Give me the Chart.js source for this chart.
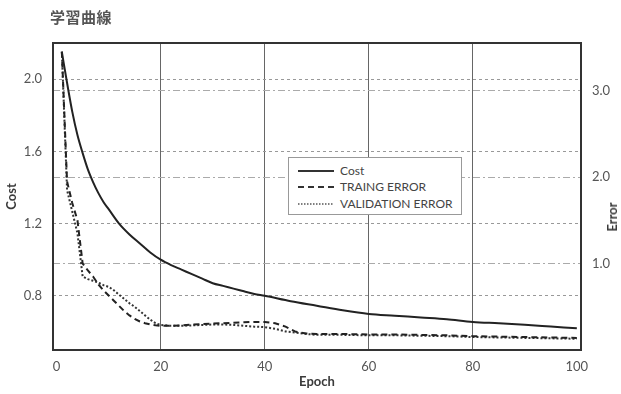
<!DOCTYPE html>
<html><head><meta charset="utf-8">
<script src="https://cdn.jsdelivr.net/npm/chart.js@4"></script>
<style>
html,body{margin:0;padding:0;background:#fff;}
#wrap{position:relative;width:621px;height:394px;overflow:hidden;}
#title{position:absolute;left:50px;top:6px;font:bold 15px "Noto Sans CJK JP",sans-serif;color:#555;letter-spacing:0.5px;}
#legend{position:absolute;left:288px;top:157px;width:172px;height:56px;border:1px solid #999;background:#fff;font:12px Lato,sans-serif;color:#444;}
.row{position:absolute;left:9px;height:16px;line-height:16px;white-space:nowrap;}
.row svg{position:absolute;left:0;top:0;}
.row span{position:absolute;left:42px;top:0;}
#errTitle{position:absolute;left:612px;top:217px;transform:translate(-50%,-50%) rotate(-90deg);font:bold 13px Lato,sans-serif;color:#3a3a3a;white-space:nowrap;}
</style></head>
<body>
<div id="wrap">
<canvas id="c" width="621" height="394"></canvas>
<div id="title">学習曲線</div>
<div id="errTitle">Error</div>
<div id="legend">
 <div class="row" style="top:5px"><svg width="38" height="16"><line x1="0" y1="8" x2="36" y2="8" stroke="#333" stroke-width="2"/></svg><span>Cost</span></div>
 <div class="row" style="top:21px"><svg width="38" height="16"><line x1="0" y1="8" x2="36" y2="8" stroke="#333" stroke-width="2" stroke-dasharray="6,4"/></svg><span>TRAING ERROR</span></div>
 <div class="row" style="top:38px"><svg width="38" height="16"><line x1="0" y1="8" x2="36" y2="8" stroke="#555" stroke-width="1.5" stroke-dasharray="1.5,1.5"/></svg><span>VALIDATION ERROR</span></div>
</div>
</div>
<script>
const xTicks = [0, 20, 40, 60, 80, 100];
const costTicks = [0.8, 1.2, 1.6, 2.0];
const errTicks = [1.0, 2.0, 3.0];

const costEpochs = [1,2,3,4,5,6,7,8,9,10,12,14,16,18,20,22,24,26,28,30,32,34,36,38,40,45,50,55,60,65,70,75,80,85,90,95,100];
const costValues = [2.15,1.98,1.82,1.69,1.59,1.50,1.43,1.37,1.32,1.28,1.20,1.14,1.09,1.04,1.00,0.97,0.945,0.92,0.895,0.87,0.855,0.84,0.825,0.81,0.80,0.77,0.745,0.72,0.70,0.69,0.68,0.67,0.655,0.648,0.64,0.63,0.62];

const errEpochs = [1,2,3,4,5,6,7,8,9,10,11,12,13,14,15,16,17,18,19,20,22,24,26,28,30,32,34,36,38,40,42,44,46,48,50,55,60,65,70,75,80,85,90,95,100];
const trainErr = [3.45,1.95,1.7,1.5,1.0,0.92,0.85,0.76,0.69,0.63,0.57,0.51,0.45,0.40,0.36,0.33,0.31,0.295,0.285,0.28,0.28,0.285,0.295,0.30,0.305,0.31,0.315,0.32,0.325,0.325,0.31,0.27,0.21,0.19,0.185,0.185,0.18,0.18,0.175,0.17,0.16,0.155,0.15,0.145,0.14];
const valErr = [3.45,1.85,1.6,1.35,0.85,0.82,0.80,0.78,0.75,0.73,0.69,0.64,0.59,0.54,0.50,0.45,0.40,0.35,0.31,0.29,0.28,0.28,0.285,0.29,0.295,0.295,0.29,0.28,0.27,0.265,0.245,0.215,0.2,0.185,0.175,0.175,0.17,0.17,0.165,0.16,0.15,0.145,0.14,0.135,0.13];

const pts = (xs, ys) => xs.map((x, i) => ({x: x, y: ys[i]}));
const tickFont = {family: 'Lato', size: 13};
const titleFont = {family: 'Lato', size: 13, weight: 'bold'};

const frame = {
  id: 'frame',
  afterDatasetsDraw(c) {
    const a = c.chartArea, ctx = c.ctx;
    ctx.save();
    ctx.strokeStyle = '#333';
    ctx.lineWidth = 2;
    ctx.strokeRect(a.left, a.top, a.right - a.left, a.bottom - a.top);
    ctx.restore();
  }
};

new Chart(document.getElementById('c'), {
  type: 'line',
  data: {
    datasets: [
      {label: 'Cost', data: pts(costEpochs, costValues), yAxisID: 'y', borderColor: '#222', borderWidth: 2, pointRadius: 0, cubicInterpolationMode: 'monotone', fill: false},
      {label: 'TRAING ERROR', data: pts(errEpochs, trainErr), yAxisID: 'y1', borderColor: '#222', borderWidth: 2, borderDash: [6, 4], pointRadius: 0, fill: false},
      {label: 'VALIDATION ERROR', data: pts(errEpochs, valErr), yAxisID: 'y1', borderColor: '#333', borderWidth: 2, borderDash: [2, 2], pointRadius: 0, fill: false}
    ]
  },
  options: {
    responsive: false,
    devicePixelRatio: 1,
    animation: false,
    layout: {padding: {top: 43, left: 0, right: 0, bottom: 0}},
    plugins: {legend: {display: false}, title: {display: false}, tooltip: {enabled: false}},
    scales: {
      x: {
        type: 'linear', min: -0.7, max: 100.8,
        afterBuildTicks: s => { s.ticks = xTicks.map(v => ({value: v})); },
        afterFit: s => { s.height = 44; },
        grid: {color: ctx => (ctx.tick && (ctx.tick.value === 0 || ctx.tick.value === 100)) ? 'rgba(0,0,0,0)' : '#666', lineWidth: 1, drawTicks: false},
        border: {display: false},
        ticks: {padding: 9, font: tickFont, color: '#555', maxRotation: 0, callback: v => String(v)},
        title: {display: true, text: 'Epoch', font: titleFont, color: '#3a3a3a', padding: {top: 0, bottom: 4}}
      },
      y: {
        type: 'linear', position: 'left', min: 0.5, max: 2.2,
        afterBuildTicks: s => { s.ticks = costTicks.map(v => ({value: v})); },
        afterFit: s => { s.width = 53; },
        grid: {color: '#999', lineWidth: 1, drawTicks: false},
        border: {display: false, dash: [3, 3]},
        ticks: {padding: 11, font: tickFont, color: '#555', callback: v => v.toFixed(1)},
        title: {display: true, text: 'Cost', font: titleFont, color: '#3a3a3a', padding: {top: 4, bottom: 0}}
      },
      y1: {
        type: 'linear', position: 'right', min: 0, max: 3.55,
        afterBuildTicks: s => { s.ticks = errTicks.map(v => ({value: v})); },
        afterFit: s => { s.width = 40; },
        grid: {color: '#aaa', lineWidth: 1, drawTicks: false, drawOnChartArea: true},
        border: {display: false, dash: [7, 3, 2, 3]},
        ticks: {padding: 11, font: tickFont, color: '#555', callback: v => v.toFixed(1)},
        title: {display: false}
      }
    }
  },
  plugins: [frame]
});
</script>
</body></html>
